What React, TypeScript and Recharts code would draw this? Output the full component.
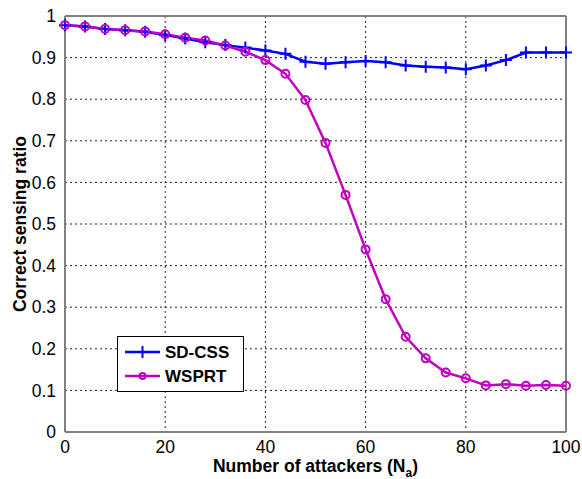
import React from 'react';
import { LineChart, Line, XAxis, YAxis, CartesianGrid, ReferenceLine } from 'recharts';

const attackers = [0, 4, 8, 12, 16, 20, 24, 28, 32, 36, 40, 44, 48, 52, 56, 60, 64, 68, 72, 76, 80, 84, 88, 92, 96, 100];
const sdCss = [0.978, 0.975, 0.969, 0.966, 0.962, 0.954, 0.946, 0.937, 0.93, 0.924, 0.917, 0.909, 0.89, 0.885, 0.889, 0.892, 0.889, 0.881, 0.878, 0.876, 0.872, 0.881, 0.894, 0.912, 0.912, 0.912];
const wsprt = [0.978, 0.975, 0.969, 0.966, 0.963, 0.956, 0.948, 0.941, 0.929, 0.914, 0.894, 0.861, 0.798, 0.695, 0.57, 0.439, 0.319, 0.229, 0.177, 0.143, 0.129, 0.112, 0.115, 0.111, 0.113, 0.111];
const xTicks = [0, 20, 40, 60, 80, 100];
const yTicks = [0, 0.1, 0.2, 0.3, 0.4, 0.5, 0.6, 0.7, 0.8, 0.9, 1];

const data = attackers.map((n, i) => ({ n, sd: sdCss[i], ws: wsprt[i] }));

const BLUE = '#0000ff';
const MAGENTA = '#c000c0';
const FONT = '"Liberation Sans", Arial, sans-serif';

// eslint-disable-next-line @typescript-eslint/no-explicit-any
function PlusDot(props: any) {
    const { cx, cy, index } = props;
    if (cx == null || cy == null) return null;
    return <path key={`sd-${index}`} d={`M${cx - 6},${cy}H${cx + 6}M${cx},${cy - 6}V${cy + 6}`} stroke={BLUE} strokeWidth={2} />;
}

// eslint-disable-next-line @typescript-eslint/no-explicit-any
function CircleDot(props: any) {
    const { cx, cy, index } = props;
    if (cx == null || cy == null) return null;
    return <circle key={`ws-${index}`} cx={cx} cy={cy} r={4} fill="none" stroke={MAGENTA} strokeWidth={2} />;
}

function LegendBox() {
    return (
        <div style={{
            position: 'absolute', left: 117, top: 336,
            width: 127, height: 56, border: '1px solid #000', background: '#fff', boxSizing: 'border-box',
        }}>
            <svg width={125} height={54} style={{ display: 'block' }}>
                <line x1={7} y1={15} x2={42} y2={15} stroke={BLUE} strokeWidth={2.5} />
                <path d="M24.5,9V21M18.5,15H30.5" stroke={BLUE} strokeWidth={2} />
                <text x={47} y={21} fontFamily={FONT} fontWeight={700} fontSize={17} fill="#000">SD-CSS</text>
                <line x1={7} y1={39} x2={42} y2={39} stroke={MAGENTA} strokeWidth={2.5} />
                <circle cx={24.5} cy={39} r={3} fill="none" stroke={MAGENTA} strokeWidth={2} />
                <text x={47} y={45} fontFamily={FONT} fontWeight={700} fontSize={17} fill="#000">WSPRT</text>
            </svg>
        </div>
    );
}

export default function App() {
    return (
        <div style={{ position: 'absolute', left: 0, top: 0, width: 582, height: 479, background: '#fff' }}>
            <LineChart width={582} height={479} data={data} margin={{ top: 16, right: 16, left: 0, bottom: 0 }}>
                <CartesianGrid stroke="#222" strokeDasharray="2 3" strokeWidth={1} />
                <XAxis
                    dataKey="n"
                    type="number"
                    domain={[0, 100]}
                    ticks={xTicks}
                    height={47}
                    tickLine={false}
                    axisLine={{ stroke: '#808080', strokeWidth: 2 }}
                    tick={{ fill: '#000', fontFamily: FONT, fontSize: 17.5 }}
                    tickMargin={3}
                    label={{
                        value: 'Number of attackers (N',
                        position: 'insideBottom',
                        // eslint-disable-next-line @typescript-eslint/no-explicit-any
                        content: (p: any) => {
                            const vb = p.viewBox;
                            return (
                                <text x={vb.x + vb.width / 2} y={vb.y + 40} textAnchor="middle" fontFamily={FONT} fontWeight={700} fontSize={17.5} fill="#000">
                                    Number of attackers (N<tspan fontSize={12} dy={5}>a</tspan><tspan dy={-5}>)</tspan>
                                </text>
                            );
                        },
                    }}
                />
                <YAxis
                    type="number"
                    domain={[0, 1]}
                    ticks={yTicks}
                    width={65}
                    tickLine={false}
                    axisLine={{ stroke: '#808080', strokeWidth: 2 }}
                    tick={{ fill: '#000', fontFamily: FONT, fontSize: 17.5 }}
                    tickMargin={3}
                    label={{
                        value: 'Correct sensing ratio',
                        angle: -90,
                        position: 'insideLeft',
                        offset: 20,
                        style: { textAnchor: 'middle', fontFamily: FONT, fontWeight: 700, fontSize: 17.5, fill: '#000' },
                    }}
                />
                <ReferenceLine y={1} stroke="#808080" strokeWidth={2} />
                <ReferenceLine x={100} stroke="#808080" strokeWidth={2} />
                <Line dataKey="sd" stroke={BLUE} strokeWidth={2.5} dot={PlusDot} activeDot={false} isAnimationActive={false} />
                <Line dataKey="ws" stroke={MAGENTA} strokeWidth={2.5} dot={CircleDot} activeDot={false} isAnimationActive={false} />
            </LineChart>
            <LegendBox />
        </div>
    );
}
